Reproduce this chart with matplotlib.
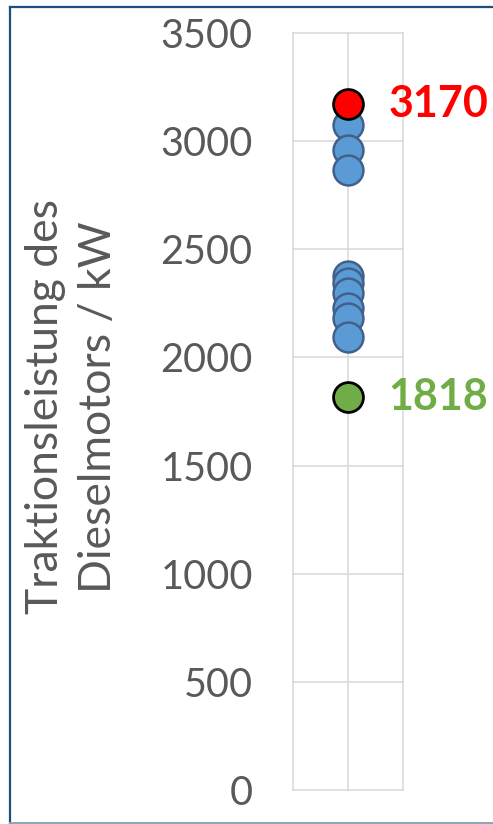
import matplotlib
matplotlib.use("Agg")
import matplotlib.pyplot as plt
from matplotlib.lines import Line2D

plt.rcParams['font.family'] = ['Lato', 'DejaVu Sans']

# Data
blue_values = [3075, 2960, 2865, 2375, 2345, 2300, 2230, 2180, 2095]
max_value = 3170
min_value = 1818
y_ticks = [0, 500, 1000, 1500, 2000, 2500, 3000, 3500]
y_label = "Traktionsleistung des\nDieselmotors / kW"

W, H = 493, 824
fig = plt.figure(figsize=(W / 100, H / 100), dpi=100)
fig.patch.set_facecolor('white')

ax = fig.add_axes([293 / W, (H - 790) / H, 110 / W, 757 / H])
ax.set_xlim(0, 2)
ax.set_ylim(0, 3500)
ax.set_xticks([0, 1, 2])
ax.set_yticks(y_ticks)
ax.grid(True, color='#d9d9d9', linewidth=1.1)
ax.set_axisbelow(True)
for s in ax.spines.values():
    s.set_visible(False)
ax.tick_params(axis='x', length=0, labelbottom=False)
ax.tick_params(axis='y', length=0, pad=29, labelsize=28.5, labelcolor='#595959')
for gl in ax.get_xgridlines() + ax.get_ygridlines():
    gl.set_clip_on(False)

ms = 21.5
ax.plot([1] * len(blue_values), blue_values, 'o', ms=ms, mfc='#5B9BD5',
        mec='#41618A', mew=1.8, clip_on=False, zorder=3)
ax.plot([1], [max_value], 'o', ms=ms, mfc='#FF0000', mec='black', mew=2.0,
        clip_on=False, zorder=4)
ax.plot([1], [min_value], 'o', ms=ms, mfc='#70AD47', mec='black', mew=2.0,
        clip_on=False, zorder=4)

ax.annotate(str(max_value), xy=(1, max_value), xytext=(29, 0),
            textcoords='offset points', ha='left', va='center',
            fontsize=31, fontweight='bold', color='#FF0000', annotation_clip=False)
ax.annotate(str(min_value), xy=(1, min_value), xytext=(29, 0),
            textcoords='offset points', ha='left', va='center',
            fontsize=31, fontweight='bold', color='#70AD47', annotation_clip=False)

fig.text(72 / W, 1 - 407 / H, y_label, rotation=90, ha='center', va='center',
         fontsize=32, color='#595959', linespacing=1.36, multialignment='center')

# figure frame
fig.add_artist(Line2D([9.5 / W, 9.5 / W], [1 - 7 / H, 1 - 823 / H], color='#1F4E79', lw=1.6))
fig.add_artist(Line2D([9.5 / W, 1], [1 - 7 / H, 1 - 7 / H], color='#1F4E79', lw=1.6))
fig.add_artist(Line2D([9.5 / W, 1], [1 - 823 / H, 1 - 823 / H], color='#8EA2B8', lw=1.4))

fig.savefig('out.png', dpi=100, facecolor='white')
